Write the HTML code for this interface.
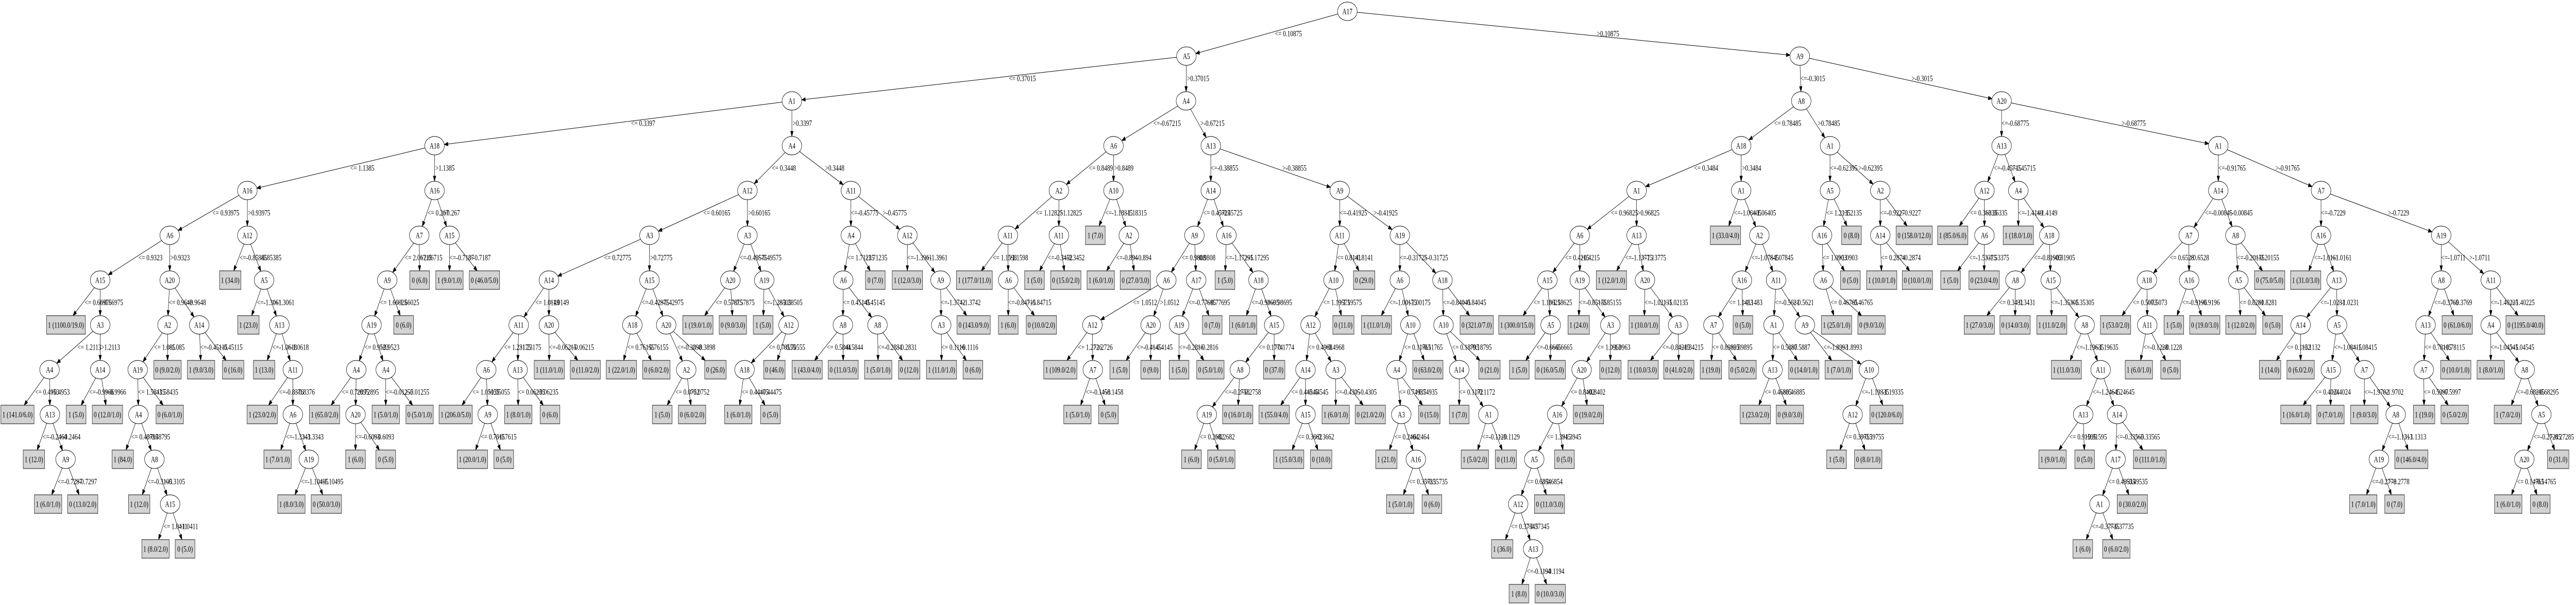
<!DOCTYPE html>
<html><head><meta charset="utf-8">
<style>
html,body{margin:0;padding:0;background:#fff;width:100%;height:100%;overflow:hidden;}
svg{display:block;position:absolute;left:0;top:0;width:100vw;height:100vh;}
text{font-family:"Liberation Serif","DejaVu Serif",serif;font-size:16px;fill:#000;}
</style></head>
<body>
<svg id="g" viewBox="0 0 7072 1175" preserveAspectRatio="none" xmlns="http://www.w3.org/2000/svg"></svg>
<script>
const M={};
function D(k,l,x,t,a,b){M[k]={l:l,x:x,t:t,c:[a,b]};}
function L(l,x){return {l:l,x:x,leaf:1};}
D('ROOT','A17',3699,'0.10875','A5_3257','A9_4941');
D('A5_3257','A5',3257,'0.37015','A1_2174','A4_3256');
D('A1_2174','A1',2174,'0.3397','A18_1193','A4_2174');
D('A18_1193','A18',1193,'1.1385','A16_679','A16_1193');
D('A16_679','A16',679,'0.93975','A6_466','A12_679');
D('A6_466','A6',466,'0.9323','A15_275','A20_466');
D('A15_275','A15',275,'0.66975',L('1 (1100.0/19.0)',181),'A3_275');
D('A3_275','A3',275,'1.2113','A4_136','A14_275');
D('A4_136','A4',136,'0.4953',L('1 (141.0/6.0)',48),'A13_137');
D('A13_137','A13',137,'-0.2464',L('1 (12.0)',93),'A9_180');
D('A9_180','A9',180,'-0.7297',L('1 (6.0/1.0)',132),L('0 (13.0/2.0)',227));
D('A14_275','A14',275,'-0.9966',L('1 (5.0)',209),L('0 (12.0/1.0)',295));
D('A20_466','A20',466,'0.9648','A2_460','A14_547');
D('A2_460','A2',460,'1.085','A19_378',L('0 (9.0/2.0)',460));
D('A19_378','A19',378,'1.58435','A4_380',L('0 (6.0/1.0)',466));
D('A4_380','A4',380,'0.48795',L('1 (84.0)',337),'A8_424');
D('A8_424','A8',424,'-0.3105',L('1 (12.0)',382),'A15_467');
D('A15_467','A15',467,'1.0411',L('1 (8.0/2.0)',427),L('0 (5.0)',508));
D('A14_547','A14',547,'-0.45115',L('1 (9.0/3.0)',552),L('0 (16.0)',640));
D('A12_679','A12',679,'-0.85385',L('1 (34.0)',632),'A5_725');
D('A5_725','A5',725,'-1.3061',L('1 (23.0)',682),'A13_767');
D('A13_767','A13',767,'-1.0618',L('1 (13.0)',725),'A11_804');
D('A11_804','A11',804,'-0.8376',L('1 (23.0/2.0)',720),'A6_804');
D('A6_804','A6',804,'-1.3343',L('1 (7.0/1.0)',762),'A19_848');
D('A19_848','A19',848,'-1.10495',L('1 (8.0/3.0)',800),L('0 (50.0/3.0)',896));
D('A16_1193','A16',1193,'0.267','A7_1151','A15_1234');
D('A7_1151','A7',1151,'2.06715','A9_1063',L('0 (6.0)',1152));
D('A9_1063','A9',1063,'1.66025','A19_1020',L('0 (6.0)',1108));
D('A19_1020','A19',1020,'0.9523','A4_978','A4_1059');
D('A4_978','A4',978,'0.72895',L('1 (65.0/2.0)',891),'A20_976');
D('A20_976','A20',976,'-0.6093',L('1 (6.0)',976),L('0 (5.0)',1059));
D('A4_1059','A4',1059,'-0.01255',L('1 (5.0/1.0)',1059),L('0 (5.0/1.0)',1152));
D('A15_1234','A15',1234,'-0.7187',L('1 (9.0/1.0)',1234),L('0 (46.0/5.0)',1330));
D('A4_2174','A4',2174,'0.3448','A12_2052','A11_2336');
D('A12_2052','A12',2052,'0.60165','A3_1783','A3_2052');
D('A3_1783','A3',1783,'0.72775','A14_1507','A15_1783');
D('A14_1507','A14',1507,'1.0149','A11_1424','A20_1507');
D('A11_1424','A11',1424,'1.23175','A6_1335','A13_1421');
D('A6_1335','A6',1335,'1.05055',L('1 (206.0/5.0)',1251),'A9_1339');
D('A9_1339','A9',1339,'0.7615',L('1 (20.0/1.0)',1297),L('0 (5.0)',1383));
D('A13_1421','A13',1421,'0.06235',L('1 (8.0/1.0)',1423),L('0 (6.0)',1510));
D('A20_1507','A20',1507,'-0.06215',L('1 (11.0/1.0)',1508),L('0 (11.0/2.0)',1607));
D('A15_1783','A15',1783,'-0.42975','A18_1736','A20_1829');
D('A18_1736','A18',1736,'0.76155',L('1 (22.0/1.0)',1706),L('0 (6.0/2.0)',1802));
D('A20_1829','A20',1829,'-0.3898','A2_1884',L('0 (26.0)',1964));
D('A2_1884','A2',1884,'0.0752',L('1 (5.0)',1818),L('0 (6.0/2.0)',1900));
D('A3_2052','A3',2052,'-0.49575','A20_2005','A19_2098');
D('A20_2005','A20',2005,'0.57875',L('1 (19.0/1.0)',1916),L('0 (9.0/3.0)',2012));
D('A19_2098','A19',2098,'-1.28505',L('1 (5.0)',2095),'A12_2165');
D('A12_2165','A12',2165,'0.70555','A18_2044',L('0 (46.0)',2126));
D('A18_2044','A18',2044,'0.44475',L('1 (6.0/1.0)',2027),L('0 (5.0)',2115));
D('A11_2336','A11',2336,'-0.45775','A4_2336','A12_2491');
D('A4_2336','A4',2336,'1.71235','A6_2315',L('0 (7.0)',2403));
D('A6_2315','A6',2315,'0.45145','A8_2314','A8_2409');
D('A8_2314','A8',2314,'0.5844',L('1 (43.0/4.0)',2216),L('0 (11.0/3.0)',2315));
D('A8_2409','A8',2409,'-0.2831',L('1 (5.0/1.0)',2411),L('0 (12.0)',2496));
D('A12_2491','A12',2491,'-1.3961',L('1 (12.0/3.0)',2491),'A9_2582');
D('A9_2582','A9',2582,'-1.3742','A3_2584',L('0 (143.0/9.0)',2673));
D('A3_2584','A3',2584,'0.1116',L('1 (11.0/1.0)',2585),L('0 (6.0)',2671));
D('A4_3256','A4',3256,'-0.67215','A6_3057','A13_3324');
D('A6_3057','A6',3057,'0.8489','A2_2907','A10_3057');
D('A2_2907','A2',2907,'1.12825','A11_2767','A11_2907');
D('A11_2767','A11',2767,'1.1598',L('1 (177.0/11.0)',2675),'A6_2768');
D('A6_2768','A6',2768,'-0.84715',L('1 (6.0)',2768),L('0 (10.0/2.0)',2859));
D('A11_2907','A11',2907,'-0.3452',L('1 (5.0)',2840),L('0 (15.0/2.0)',2926));
D('A10_3057','A10',3057,'-1.18315',L('1 (7.0)',3007),'A2_3099');
D('A2_3099','A2',3099,'-0.894',L('1 (6.0/1.0)',3022),L('0 (27.0/3.0)',3117));
D('A13_3324','A13',3324,'-0.38855','A14_3324','A9_3678');
D('A14_3324','A14',3324,'0.45725','A9_3279','A16_3367');
D('A9_3279','A9',3279,'0.9808','A6_3202','A17_3284');
D('A6_3202','A6',3202,'1.0512','A12_2999','A20_3159');
D('A12_2999','A12',2999,'1.2726',L('1 (109.0/2.0)',2911),'A7_3000');
D('A7_3000','A7',3000,'-0.1458',L('1 (5.0/1.0)',2958),L('0 (5.0)',3043));
D('A20_3159','A20',3159,'-0.4145',L('1 (5.0)',3074),L('0 (9.0)',3159));
D('A17_3284','A17',3284,'-0.77695','A19_3237',L('0 (7.0)',3328));
D('A19_3237','A19',3237,'-0.2816',L('1 (5.0)',3237),L('0 (5.0/1.0)',3323));
D('A16_3367','A16',3367,'-1.17295',L('1 (5.0)',3363),'A18_3455');
D('A18_3455','A18',3455,'-0.98695',L('1 (6.0/1.0)',3413),'A15_3498');
D('A15_3498','A15',3498,'0.1774','A8_3404',L('0 (37.0)',3498));
D('A8_3404','A8',3404,'-0.2758','A19_3313',L('0 (16.0/1.0)',3398));
D('A19_3313','A19',3313,'0.2682',L('1 (6.0)',3271),L('0 (5.0/1.0)',3353));
D('A9_3678','A9',3678,'-0.41925','A11_3678','A19_3843');
D('A11_3678','A11',3678,'0.8141','A10_3661',L('0 (29.0)',3745));
D('A10_3661','A10',3661,'1.19575','A12_3598',L('0 (11.0)',3688));
D('A12_3598','A12',3598,'0.4968','A14_3584','A3_3667');
D('A14_3584','A14',3584,'0.44545',L('1 (55.0/4.0)',3498),'A15_3584');
D('A15_3584','A15',3584,'0.3662',L('1 (15.0/3.0)',3538),L('0 (10.0)',3627));
D('A3_3667','A3',3667,'-0.4305',L('1 (6.0/1.0)',3667),L('0 (21.0/2.0)',3762));
D('A19_3843','A19',3843,'-0.31725','A6_3843','A18_3960');
D('A6_3843','A6',3843,'-1.00175',L('1 (11.0/1.0)',3779),'A10_3872');
D('A10_3872','A10',3872,'0.11765','A4_3834',L('0 (63.0/2.0)',3920));
D('A4_3834','A4',3834,'0.74935','A3_3847',L('0 (15.0)',3924));
D('A3_3847','A3',3847,'0.2464',L('1 (21.0)',3806),'A16_3887');
D('A16_3887','A16',3887,'0.35735',L('1 (5.0/1.0)',3844),L('0 (6.0)',3931));
D('A18_3960','A18',3960,'-0.84045','A10_3963',L('0 (321.0/7.0)',4054));
D('A10_3963','A10',3963,'0.18795','A14_4006',L('0 (21.0)',4089));
D('A14_4006','A14',4006,'0.1172',L('1 (7.0)',4006),'A1_4086');
D('A1_4086','A1',4086,'-0.1129',L('1 (5.0/2.0)',4049),L('0 (11.0)',4134));
D('A9_4941','A9',4941,'-0.3015','A8_4945','A20_5495');
D('A8_4945','A8',4945,'0.78485','A18_4780','A1_5024');
D('A18_4780','A18',4780,'0.3484','A1_4493','A1_4780');
D('A1_4493','A1',4493,'0.96825','A6_4337','A13_4493');
D('A6_4337','A6',4337,'0.4215','A15_4248','A19_4337');
D('A15_4248','A15',4248,'1.18625',L('1 (300.0/15.0)',4164),'A5_4257');
D('A5_4257','A5',4257,'-0.6665',L('1 (5.0)',4171),L('0 (16.0/5.0)',4256));
D('A19_4337','A19',4337,'-0.85155',L('1 (24.0)',4334),'A3_4421');
D('A3_4421','A3',4421,'1.0963','A20_4342',L('0 (12.0)',4421));
D('A20_4342','A20',4342,'0.8402','A16_4275',L('0 (19.0/2.0)',4361));
D('A16_4275','A16',4275,'1.3945','A5_4212',L('0 (5.0)',4295));
D('A5_4212','A5',4212,'0.6854','A12_4168',L('0 (11.0/3.0)',4254));
D('A12_4168','A12',4168,'0.37345',L('1 (36.0)',4124),'A13_4209');
D('A13_4209','A13',4209,'-0.1194',L('1 (8.0)',4170),L('0 (10.0/3.0)',4256));
D('A13_4493','A13',4493,'-1.13775',L('1 (12.0/1.0)',4424),'A20_4516');
D('A20_4516','A20',4516,'-1.02135',L('1 (10.0/1.0)',4514),'A3_4607');
D('A3_4607','A3',4607,'-0.84215',L('1 (10.0/3.0)',4511),L('0 (41.0/2.0)',4609));
D('A1_4780','A1',4780,'-1.06405',L('1 (33.0/4.0)',4737),'A2_4830');
D('A2_4830','A2',4830,'-1.07845','A16_4782','A11_4876');
D('A16_4782','A16',4782,'1.1483','A7_4704',L('0 (5.0)',4785));
D('A7_4704','A7',4704,'0.89895',L('1 (19.0)',4697),L('0 (5.0/2.0)',4784));
D('A11_4876','A11',4876,'-0.5621','A1_4869','A9_4955');
D('A1_4869','A1',4869,'0.5887','A13_4866',L('0 (14.0/1.0)',4952));
D('A13_4866','A13',4866,'0.46885',L('1 (23.0/2.0)',4819),L('0 (9.0/3.0)',4914));
D('A9_4955','A9',4955,'-1.8993',L('1 (7.0/1.0)',5048),'A10_5131');
D('A10_5131','A10',5131,'-1.19335','A12_5086',L('0 (120.0/6.0)',5179));
D('A12_5086','A12',5086,'0.39755',L('1 (5.0)',5042),L('0 (8.0/1.0)',5129));
D('A1_5024','A1',5024,'-0.62395','A5_5024','A2_5162');
D('A5_5024','A5',5024,'1.2135','A16_5002',L('0 (8.0)',5083));
D('A16_5002','A16',5002,'1.0903','A6_5006',L('0 (5.0)',5080));
D('A6_5006','A6',5006,'0.46765',L('1 (25.0/1.0)',5042),L('0 (9.0/3.0)',5138));
D('A2_5162','A2',5162,'-0.9227','A14_5162',L('0 (158.0/12.0)',5255));
D('A14_5162','A14',5162,'0.2874',L('1 (10.0/1.0)',5166),L('0 (10.0/1.0)',5264));
D('A20_5495','A20',5495,'-0.68775','A13_5495','A1_6090');
D('A13_5495','A13',5495,'-0.45715','A12_5448','A4_5541');
D('A12_5448','A12',5448,'0.36335',L('1 (85.0/6.0)',5361),'A6_5448');
D('A6_5448','A6',5448,'-1.53375',L('1 (5.0)',5355),L('0 (23.0/4.0)',5447));
D('A4_5541','A4',5541,'-1.4149',L('1 (18.0/1.0)',5541),'A18_5626');
D('A18_5626','A18',5626,'-0.81905','A8_5533','A15_5630');
D('A8_5533','A8',5533,'0.3431',L('1 (27.0/3.0)',5434),L('0 (14.0/3.0)',5532));
D('A15_5630','A15',5630,'-1.35305',L('1 (11.0/2.0)',5633),'A8_5723');
D('A8_5723','A8',5723,'-1.19635',L('1 (11.0/3.0)',5673),'A11_5767');
D('A11_5767','A11',5767,'-1.24645','A13_5719','A14_5812');
D('A13_5719','A13',5719,'0.91595',L('1 (9.0/1.0)',5635),L('0 (5.0)',5723));
D('A14_5812','A14',5812,'-0.33565','A17_5808',L('0 (111.0/1.0)',5902));
D('A17_5808','A17',5808,'0.49535','A1_5764',L('0 (30.0/2.0)',5854));
D('A1_5764','A1',5764,'-0.37735',L('1 (6.0)',5718),L('0 (6.0/2.0)',5810));
D('A1_6090','A1',6090,'-0.91765','A14_6090','A7_6372');
D('A14_6090','A14',6090,'-0.00845','A7_6009','A8_6137');
D('A7_6009','A7',6009,'0.6528','A18_5894','A16_6010');
D('A18_5894','A18',5894,'0.5073',L('1 (53.0/2.0)',5808),'A11_5895');
D('A11_5895','A11',5895,'-0.1228',L('1 (6.0/1.0)',5872),L('0 (5.0)',5959));
D('A16_6010','A16',6010,'-0.9196',L('1 (5.0)',5968),L('0 (19.0/3.0)',6053));
D('A8_6137','A8',6137,'-0.20155','A5_6145',L('0 (75.0/5.0)',6231));
D('A5_6145','A5',6145,'0.8281',L('1 (12.0/2.0)',6152),L('0 (5.0)',6239));
D('A7_6372','A7',6372,'-0.7229','A16_6372','A19_6702');
D('A16_6372','A16',6372,'-1.0161',L('1 (31.0/3.0)',6330),'A13_6415');
D('A13_6415','A13',6415,'-1.0231','A14_6316','A5_6416');
D('A14_6316','A14',6316,'0.1132',L('1 (14.0)',6232),L('0 (6.0/2.0)',6316));
D('A5_6416','A5',6416,'-1.08415','A15_6399','A7_6491');
D('A15_6399','A15',6399,'0.4024',L('1 (16.0/1.0)',6303),L('0 (7.0/1.0)',6398));
D('A7_6491','A7',6491,'-1.9702',L('1 (9.0/3.0)',6491),'A8_6577');
D('A8_6577','A8',6577,'-1.1313','A19_6531',L('0 (146.0/4.0)',6620));
D('A19_6531','A19',6531,'-0.2778',L('1 (7.0/1.0)',6488),L('0 (7.0)',6574));
D('A19_6702','A19',6702,'-1.0711','A8_6702','A11_6838');
D('A8_6702','A8',6702,'-0.3769','A13_6659',L('0 (61.0/6.0)',6746));
D('A13_6659','A13',6659,'0.78115','A7_6654',L('0 (10.0/1.0)',6742));
D('A7_6654','A7',6654,'0.5997',L('1 (19.0)',6655),L('0 (5.0/2.0)',6739));
D('A11_6838','A11',6838,'-1.40225','A4_6838',L('0 (1195.0/40.0)',6933));
D('A4_6838','A4',6838,'-1.04545',L('1 (8.0/1.0)',6838),'A8_6931');
D('A8_6931','A8',6931,'-0.68295',L('1 (7.0/2.0)',6885),'A5_6977');
D('A5_6977','A5',6977,'-0.27285','A20_6930',L('0 (31.0)',7023));
D('A20_6930','A20',6930,'0.14765',L('1 (6.0/1.0)',6886),L('0 (8.0)',6974));

const cv=document.createElement('canvas').getContext('2d');
cv.font='16px "Liberation Serif", serif';
function tw(s){return cv.measureText(s).width;}
const RX=27,RY=18,HH=18;
function res(n,lv){ if(typeof n==='string') n=M[n]; n.y=22+87*lv;
  if(n.leaf){n.w=Math.max(54,tw(n.l)+8);} else {n.c=n.c.map(c=>res(c,lv+1));}
  return n;}
const root=res('ROOT',0);
let E=[],N=[];
function esc(s){return s.replace(/&/g,'&amp;').replace(/</g,'&lt;').replace(/>/g,'&gt;');}
function bt(n,dx,dy){
  if(n.leaf){const hw=n.w/2;let t=1e9; if(dx!==0)t=Math.min(t,hw/Math.abs(dx)); if(dy!==0)t=Math.min(t,HH/Math.abs(dy)); return t;}
  return 1/Math.sqrt((dx/RX)*(dx/RX)+(dy/RY)*(dy/RY));}
function draw(n){
  if(n.leaf){N.push(`<rect x="${(n.x-n.w/2).toFixed(1)}" y="${n.y-HH}" width="${n.w.toFixed(1)}" height="36" fill="#d3d3d3" stroke="#333" stroke-width="1.2"/><text x="${n.x}" y="${n.y+5.5}" text-anchor="middle">${esc(n.l)}</text>`);return;}
  N.push(`<ellipse cx="${n.x}" cy="${n.y}" rx="${RX}" ry="${RY}" fill="#fff" stroke="#000" stroke-width="1"/><text x="${n.x}" y="${n.y+5.5}" text-anchor="middle">${n.l}</text>`);
  n.c.forEach((c,i)=>{
    const dx=c.x-n.x,dy=c.y-n.y;
    const t1=bt(n,dx,dy),t2=bt(c,dx,dy);
    const sx=n.x+dx*t1,sy=n.y+dy*t1,ex=c.x-dx*t2,ey=c.y-dy*t2;
    const len=Math.hypot(dx,dy),ux=dx/len,uy=dy/len;
    const bx=ex-ux*10,by=ey-uy*10;
    E.push(`<line x1="${sx.toFixed(1)}" y1="${sy.toFixed(1)}" x2="${bx.toFixed(1)}" y2="${by.toFixed(1)}" stroke="#000" stroke-width="1"/>`);
    E.push(`<polygon points="${ex.toFixed(1)},${ey.toFixed(1)} ${(bx-uy*3.5).toFixed(1)},${(by+ux*3.5).toFixed(1)} ${(bx+uy*3.5).toFixed(1)},${(by-ux*3.5).toFixed(1)}" fill="#000" stroke="#000"/>`);
    const lab=i===0?(n.t[0]==='-'?'<='+n.t:'<= '+n.t):'>'+n.t;
    let mx=(n.x+c.x)/2+0.05*Math.abs(dx)+(i===0?0:2),my=(n.y+c.y)/2+5;
    if(mx>7000) mx=7000;
    E.push(`<text x="${mx.toFixed(1)}" y="${my.toFixed(1)}">${esc(lab)}</text>`);
    draw(c);
  });
}
draw(root);
document.getElementById('g').innerHTML='<rect width="7072" height="1175" fill="#fff"/>'+E.join('')+N.join('');
</script>
</body></html>
